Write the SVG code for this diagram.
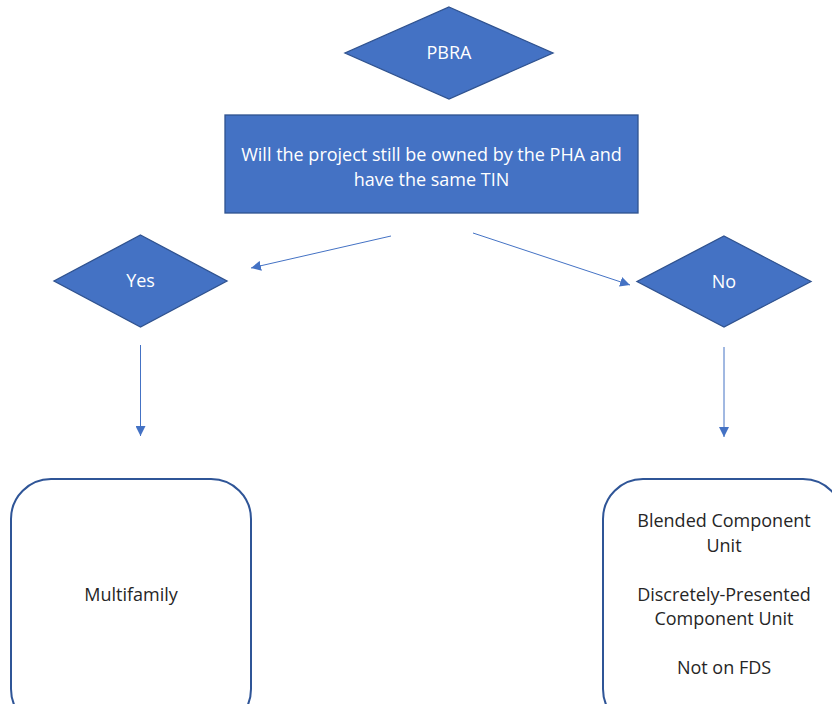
<svg xmlns="http://www.w3.org/2000/svg" width="832" height="704" viewBox="0 0 832 704">
  <style>
    .shape { fill: #4472C4; stroke: #2F528F; stroke-width: 1.3; }
    .box { fill: #FFFFFF; stroke: #2F5597; stroke-width: 2; }
    .wt { fill: #FFFFFF; font-family: "Open Sans", "Liberation Sans", sans-serif; font-size: 18px; text-anchor: middle; }
    .dk { fill: #262626; font-family: "Open Sans", "Liberation Sans", sans-serif; font-size: 18px; text-anchor: middle; }
    .conn { stroke: #4472C4; stroke-width: 1; fill: none; marker-end: url(#arrow); }
  </style>
  <defs>
    <marker id="arrow" viewBox="0 0 10 10" refX="10" refY="5" markerWidth="10" markerHeight="10" markerUnits="userSpaceOnUse" orient="auto">
      <path d="M0,0 L10,5 L0,10 Z" fill="#4472C4"/>
    </marker>
  </defs>
  <rect width="832" height="704" fill="#FFFFFF"/>

  <g id="connectors">
    <line class="conn" x1="391" y1="236" x2="251" y2="268"/>
    <line class="conn" x1="473" y1="233" x2="630" y2="285"/>
    <line class="conn" x1="140.5" y1="345" x2="140.5" y2="436"/>
    <line class="conn" x1="724" y1="347" x2="724" y2="437"/>
  </g>

  <g id="pbra">
    <polygon class="shape" points="449,7 553,53 449,99 345,53"/>
    <text class="wt" x="449" y="59">PBRA</text>
  </g>

  <g id="question">
    <rect class="shape" x="225" y="115" width="413" height="98"/>
    <text class="wt" x="431.5" y="161">Will the project still be owned by the PHA and</text>
    <text class="wt" x="431.5" y="186">have the same TIN</text>
  </g>

  <g id="yes">
    <polygon class="shape" points="140.5,235 227,281 140.5,327 54,281"/>
    <text class="wt" x="140.5" y="287">Yes</text>
  </g>

  <g id="no">
    <polygon class="shape" points="724,236 811,281.5 724,327 637,281.5"/>
    <text class="wt" x="724" y="288">No</text>
  </g>

  <g id="multifamily">
    <rect class="box" x="11" y="479" width="240" height="250" rx="40" ry="40"/>
    <text class="dk" x="131" y="601">Multifamily</text>
  </g>

  <g id="component-units">
    <rect class="box" x="603" y="479" width="240" height="250" rx="40" ry="40"/>
    <text class="dk" x="724" y="527">Blended Component</text>
    <text class="dk" x="724" y="552">Unit</text>
    <text class="dk" x="724" y="601">Discretely-Presented</text>
    <text class="dk" x="724" y="625">Component Unit</text>
    <text class="dk" x="724" y="674">Not on FDS</text>
  </g>
</svg>
